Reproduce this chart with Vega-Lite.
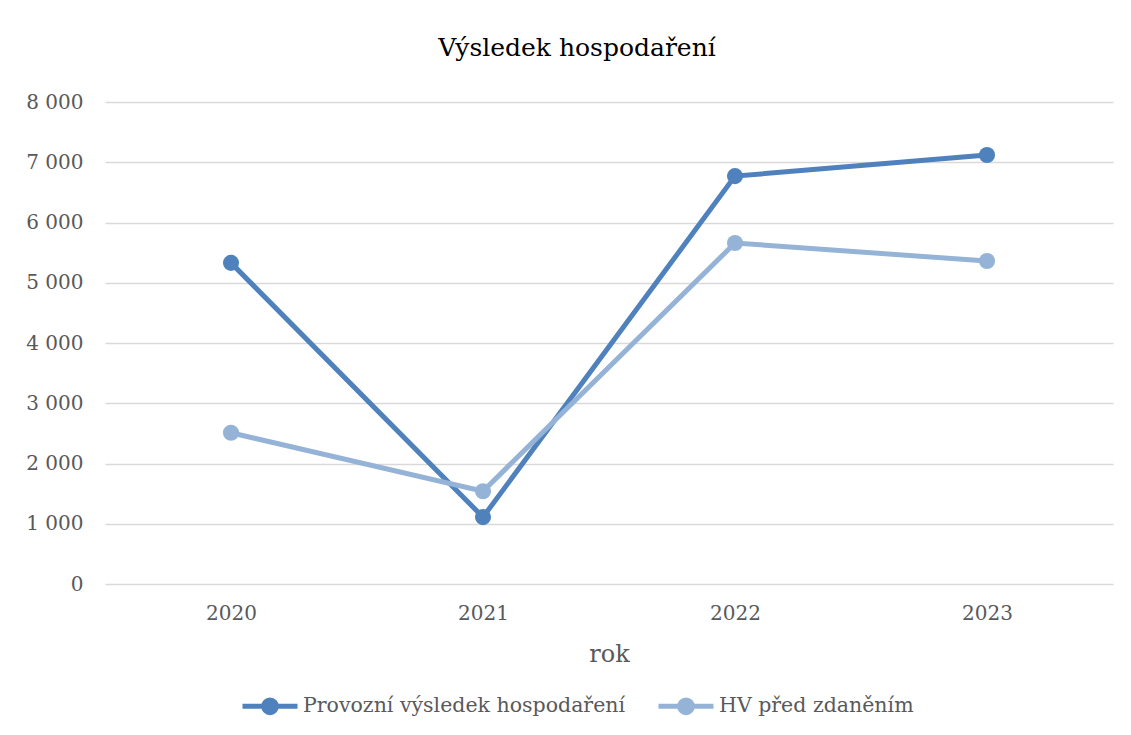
{
  "$schema": "https://vega.github.io/schema/vega-lite/v6.json",
  "width": 1008,
  "height": 482,
  "autosize": {"type": "none"},
  "padding": {"left": 105, "top": 102, "right": 18, "bottom": 151},
  "background": "white",
  "title": {
    "text": "Výsledek hospodaření",
    "font": "DejaVu Serif",
    "fontSize": 25,
    "fontWeight": "normal",
    "color": "#000000",
    "anchor": "middle",
    "dx": -32,
    "offset": 31
  },
  "config": {
    "view": {"stroke": null},
    "font": "DejaVu Serif"
  },
  "data": {
    "values": [
      {"rok": "2020", "serie": "Provozní výsledek hospodaření", "hodnota": 5330},
      {"rok": "2021", "serie": "Provozní výsledek hospodaření", "hodnota": 1110},
      {"rok": "2022", "serie": "Provozní výsledek hospodaření", "hodnota": 6770},
      {"rok": "2023", "serie": "Provozní výsledek hospodaření", "hodnota": 7120},
      {"rok": "2020", "serie": "HV před zdaněním", "hodnota": 2510},
      {"rok": "2021", "serie": "HV před zdaněním", "hodnota": 1540},
      {"rok": "2022", "serie": "HV před zdaněním", "hodnota": 5660},
      {"rok": "2023", "serie": "HV před zdaněním", "hodnota": 5360}
    ]
  },
  "encoding": {
    "x": {
      "field": "rok",
      "type": "ordinal",
      "scale": {"type": "point", "padding": 0.5},
      "axis": {
        "title": "rok",
        "titleFont": "DejaVu Serif",
        "titleFontSize": 24,
        "titleFontWeight": "normal",
        "titleColor": "#595959",
        "titlePadding": 19,
        "labelFont": "DejaVu Serif",
        "labelFontSize": 20,
        "labelColor": "#595959",
        "labelAngle": 0,
        "labelPadding": 19,
        "domain": false,
        "ticks": false,
        "grid": false
      }
    },
    "y": {
      "field": "hodnota",
      "type": "quantitative",
      "scale": {"domain": [0, 8000], "nice": false},
      "axis": {
        "title": null,
        "values": [0, 1000, 2000, 3000, 4000, 5000, 6000, 7000, 8000],
        "labelExpr": "replace(format(datum.value, ','), ',', ' ')",
        "labelFont": "DejaVu Serif",
        "labelFontSize": 20,
        "labelColor": "#595959",
        "labelPadding": 22,
        "domain": false,
        "ticks": false,
        "grid": true,
        "gridColor": "#d9d9d9",
        "gridWidth": 1.5
      }
    },
    "color": {
      "field": "serie",
      "type": "nominal",
      "sort": ["Provozní výsledek hospodaření", "HV před zdaněním"],
      "scale": {
        "domain": ["Provozní výsledek hospodaření", "HV před zdaněním"],
        "range": ["#4F81BD", "#95B3D7"]
      },
      "legend": {
        "title": null,
        "orient": "none",
        "direction": "horizontal",
        "legendX": 135,
        "legendY": 574,
        "symbolType": "M-1,0H1M-0.23,0A0.23,0.23 0 1,0 0.23,0A0.23,0.23 0 1,0 -0.23,0Z",
        "symbolSize": 3025,
        "symbolStrokeWidth": 5,
        "labelFont": "DejaVu Serif",
        "labelFontSize": 20.5,
        "labelColor": "#595959",
        "labelOffset": 3,
        "labelLimit": 500,
        "columnPadding": 22
      }
    }
  },
  "layer": [
    {"mark": {"type": "line", "strokeWidth": 5}},
    {"mark": {"type": "point", "filled": true, "size": 260, "opacity": 1}}
  ]
}
